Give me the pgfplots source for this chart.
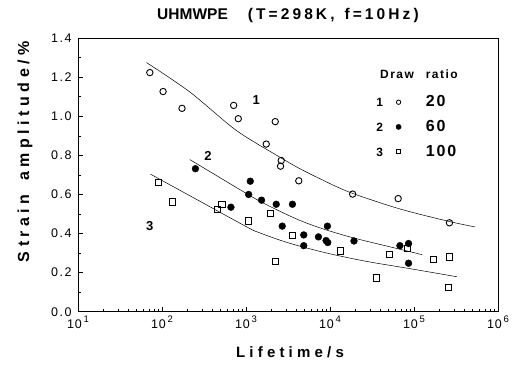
\documentclass[border=0pt]{standalone}
\usepackage{fontspec}
\setmainfont{Liberation Sans}
\newfontfamily\lsA[LetterSpace=28]{Liberation Sans}
\newfontfamily\lsB[LetterSpace=12]{Liberation Sans}
\newfontfamily\lsC[LetterSpace=20]{Liberation Sans}
\usepackage{pgfplots}
\pgfplotsset{compat=1.18}
\usepackage{pgfplotstable}

\pgfplotstableread{
t s
71.6 1.224
103 1.127
173 1.041
713 1.056
809 0.988
1741 0.858
2228 0.973
2578 0.745
2625 0.774
4250 0.670
18600 0.602
64800 0.579
264000 0.455
}\drA

\pgfplotstableread{
t s
250 0.732
662 0.535
1075 0.600
1125 0.668
1530 0.571
2290 0.550
2700 0.438
3570 0.550
4870 0.393
4870 0.338
7280 0.383
8980 0.364
9310 0.438
9400 0.354
19300 0.362
67900 0.338
86100 0.349
86100 0.248
}\drB

\pgfplotstableread{
t s
91.6 0.663
132 0.562
460 0.523
518 0.549
1075 0.465
1940 0.504
2228 0.256
3570 0.392
13400 0.311
35600 0.173
50700 0.294
83000 0.323
171000 0.267
267000 0.280
257000 0.123
}\drC

\pgfplotstableread{
t s
65.5 1.275
214 1.125
767 0.928
2506 0.792
4335 0.733
7482 0.682
16982 0.612
66680 0.527
261800 0.462
533300 0.434
}\cA

\pgfplotstableread{
t s
214 0.779
839 0.626
1452 0.566
2506 0.515
4335 0.468
7482 0.430
12940 0.398
22340 0.370
50700 0.333
125000 0.292
}\cB

\pgfplotstableread{
t s
73 0.704
281 0.566
1074 0.429
1452 0.404
2506 0.367
4335 0.336
9840 0.297
26850 0.258
87700 0.221
323600 0.179
}\cC

\newcommand{\xl}[1]{{\lsB 1\kern0.8pt0\raisebox{5.5pt}{\fontsize{9.5}{9.5}\selectfont\kern1.8pt #1}}}

\begin{document}
\begin{tikzpicture}
\useasboundingbox (-78pt,-53pt) rectangle (440pt,311.7pt);
\begin{axis}[
  scale only axis, width=420pt, height=273.5pt,
  xmode=log, xmin=10, xmax=1e6, ymin=0, ymax=1.4,
  axis line style={line width=0.9pt},
  xtick={10,100,1000,10000,100000,1000000},
  xticklabels={\xl{1},\xl{2},\xl{3},\xl{4},\xl{5},\xl{6}},
  minor xtick={20,30,40,50,60,70,80,90,200,300,400,500,600,700,800,900,2000,3000,4000,5000,6000,7000,8000,9000,20000,30000,40000,50000,60000,70000,80000,90000,200000,300000,400000,500000,600000,700000,800000,900000},
  ytick={0,0.2,0.4,0.6,0.8,1.0,1.2,1.4},
  yticklabels={0.0,0.2,0.4,0.6,0.8,1.0,1.2,1.4},
  minor ytick={0.1,0.3,0.5,0.7,0.9,1.1,1.3},
  xtick pos=bottom, ytick pos=left, tick align=inside,
  major tick length=5pt, minor tick length=3pt,
  tick style={line width=0.7pt, black},
  ticklabel style={font=\lsB\fontsize{12.5}{14}\selectfont},
  yticklabel style={xshift=-3pt},
  xticklabel style={yshift=-1pt},
  clip=false,
  legend style={at={(0.709,0.791)}, anchor=north west, draw=none, fill=none,
    inner sep=0pt, row sep=12pt,
    nodes={inner sep=0pt, anchor=base west, font=\lsB\bfseries\fontsize{16}{16}\selectfont}},
]
\addplot[black, line width=0.5pt, smooth, forget plot] table {\cA};
\addplot[black, line width=0.5pt, smooth, forget plot] table {\cB};
\addplot[black, line width=0.5pt, smooth, forget plot] table {\cC};
\addplot[only marks, mark=o, mark size=3.2pt, line width=0.9pt, black, forget plot] table {\drA};
\addplot[only marks, mark=*, mark size=3.4pt, black, mark options={fill=black}, forget plot] table {\drB};
\addplot[only marks, mark=square, mark size=3.1pt, line width=0.9pt, black, forget plot] table {\drC};

\addlegendimage{legend image code/.code={
  \node[anchor=base, inner sep=0pt, font=\bfseries\fontsize{12}{12}\selectfont] at (0pt,0pt) {1};
  \draw[black, line width=0.8pt, mark=o, mark size=2.2pt] plot coordinates {(19pt,4.5pt)};
  \path (-3.4pt,0pt) (46pt,0pt);
}}
\addlegendentry{20}
\addlegendimage{legend image code/.code={
  \node[anchor=base, inner sep=0pt, font=\bfseries\fontsize{12}{12}\selectfont] at (0pt,0pt) {2};
  \draw[black, mark=*, mark size=2.6pt, mark options={fill=black}] plot coordinates {(19pt,4.5pt)};
  \path (-3.4pt,0pt) (46pt,0pt);
}}
\addlegendentry{60}
\addlegendimage{legend image code/.code={
  \node[anchor=base, inner sep=0pt, font=\bfseries\fontsize{12}{12}\selectfont] at (0pt,0pt) {3};
  \draw[black, line width=0.8pt, mark=square, mark size=2.1pt] plot coordinates {(19pt,4.5pt)};
  \path (-3.4pt,0pt) (46pt,0pt);
}}
\addlegendentry{100}

\node[font=\bfseries\fontsize{13}{13}\selectfont] at (axis cs:1324,1.084) {1};
\node[font=\bfseries\fontsize{13}{13}\selectfont] at (axis cs:353,0.796) {2};
\node[font=\bfseries\fontsize{13}{13}\selectfont] at (axis cs:71.6,0.437) {3};
\end{axis}
\node[anchor=west, font=\lsB\bfseries\fontsize{12}{12}\selectfont] at (298.7pt,237.7pt) {Draw\hspace{12pt}ratio};
\node[font=\lsA\bfseries\fontsize{16}{16}\selectfont, rotate=90] at (-53pt,160pt) {Strain\hspace{5pt} amplitude/\%};
\node[font=\lsA\bfseries\fontsize{15}{15}\selectfont] at (212pt,-40.3pt) {Lifetime/s};
\node[font=\bfseries\fontsize{15.5}{15.5}\selectfont] at (210pt,296.7pt) {UHMWPE\hspace{20pt}{\lsC (T=298K,}\hspace{10pt}{\lsC f=10Hz)}};
\end{tikzpicture}
\end{document}
